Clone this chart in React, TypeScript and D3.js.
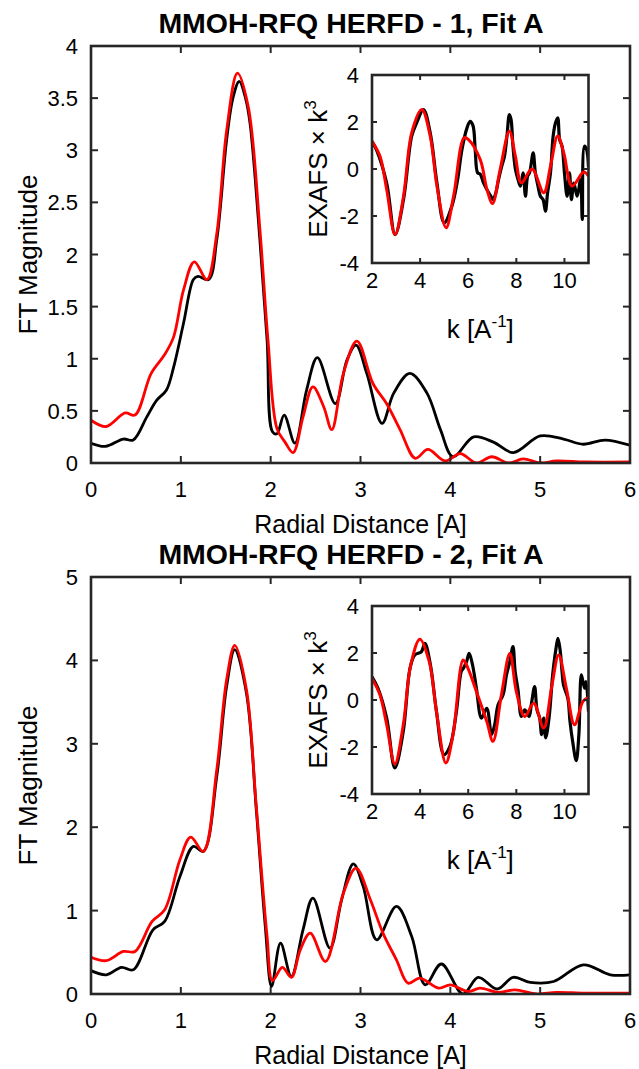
import React from "react";
import * as d3 from "d3";

// ---------- Data ----------
// Panel 1 main (FT magnitude vs R)
const p1DataR = [0, 0.16, 0.36, 0.47, 0.62, 0.73, 0.84, 0.92, 1.03, 1.14, 1.19, 1.31, 1.40, 1.51, 1.58, 1.65, 1.72, 1.77, 1.88, 1.96, 2.02, 2.07, 2.15, 2.27, 2.40, 2.52, 2.72, 2.85, 2.95, 3.07, 3.24, 3.37, 3.55, 3.74, 3.89, 4.03, 4.26, 4.48, 4.70, 5.00, 5.26, 5.48, 5.72, 6.0];
const p1DataF = [0.19, 0.16, 0.23, 0.22, 0.44, 0.60, 0.70, 0.92, 1.34, 1.76, 1.79, 1.76, 2.14, 3.10, 3.50, 3.66, 3.50, 3.26, 2.14, 1.18, 0.30, 0.28, 0.46, 0.19, 0.70, 1.01, 0.57, 0.99, 1.13, 0.86, 0.38, 0.67, 0.86, 0.67, 0.32, 0.06, 0.25, 0.20, 0.10, 0.26, 0.23, 0.18, 0.22, 0.17];
const p1FitR = [0, 0.17, 0.38, 0.49, 0.67, 0.82, 0.92, 1.03, 1.15, 1.29, 1.40, 1.51, 1.63, 1.75, 1.88, 1.97, 2.07, 2.16, 2.25, 2.36, 2.47, 2.59, 2.68, 2.81, 2.96, 3.14, 3.29, 3.44, 3.61, 3.75, 3.94, 4.11, 4.29, 4.46, 4.65, 4.81, 5.0, 5.18, 5.5, 6.0];
const p1FitF = [0.41, 0.35, 0.48, 0.46, 0.86, 1.04, 1.21, 1.66, 1.93, 1.76, 2.20, 3.19, 3.74, 3.42, 2.24, 1.18, 0.33, 0.20, 0.10, 0.44, 0.73, 0.54, 0.32, 0.86, 1.17, 0.76, 0.57, 0.32, 0.045, 0.13, 0.02, 0.09, 0.0, 0.06, 0.0, 0.04, 0.0, 0.02, 0.01, 0.01];

// Panel 2 main
const p2DataR = [0, 0.17, 0.34, 0.47, 0.69, 0.82, 0.99, 1.14, 1.25, 1.40, 1.51, 1.60, 1.73, 1.84, 1.94, 2.01, 2.11, 2.23, 2.36, 2.47, 2.66, 2.79, 2.92, 3.03, 3.18, 3.40, 3.57, 3.72, 3.90, 4.14, 4.31, 4.52, 4.70, 4.89, 5.15, 5.48, 5.78, 6.0];
const p2DataF = [0.28, 0.23, 0.32, 0.29, 0.77, 0.87, 1.41, 1.77, 1.71, 2.61, 3.69, 4.13, 3.61, 2.21, 0.81, 0.09, 0.61, 0.21, 0.77, 1.15, 0.55, 1.13, 1.56, 1.29, 0.65, 1.05, 0.69, 0.11, 0.36, 0.0, 0.20, 0.06, 0.20, 0.14, 0.15, 0.35, 0.23, 0.23];
const p2FitR = [0, 0.17, 0.36, 0.49, 0.68, 0.82, 0.99, 1.11, 1.25, 1.40, 1.51, 1.60, 1.73, 1.84, 1.96, 2.02, 2.13, 2.23, 2.33, 2.44, 2.61, 2.81, 2.95, 3.11, 3.25, 3.40, 3.53, 3.66, 3.87, 4.00, 4.20, 4.33, 4.53, 4.72, 4.96, 5.18, 5.5, 6.0];
const p2FitF = [0.44, 0.40, 0.51, 0.51, 0.87, 1.01, 1.61, 1.88, 1.71, 2.69, 3.77, 4.18, 3.65, 2.25, 0.69, 0.16, 0.32, 0.20, 0.53, 0.73, 0.39, 1.21, 1.51, 1.13, 0.73, 0.41, 0.13, 0.19, 0.07, 0.11, 0.03, 0.07, 0.02, 0.05, 0.00, 0.02, 0.01, 0.01];

// Inset 1 (EXAFS x k^3 vs k)
const i1DataK = [2.0, 2.2, 2.61, 2.96, 3.31, 3.65, 3.86, 4.14, 4.42, 4.70, 5.0, 5.32, 5.56, 5.74, 5.95, 6.08, 6.2, 6.29, 6.39, 6.5, 6.64, 6.85, 6.94, 7.03, 7.15, 7.26, 7.4, 7.5, 7.61, 7.71, 7.78, 7.86, 7.96, 8.07, 8.17, 8.28, 8.38, 8.47, 8.55, 8.70, 8.79, 8.9, 9.0, 9.11, 9.21, 9.30, 9.42, 9.53, 9.63, 9.72, 9.8, 9.9, 10.0, 10.11, 10.21, 10.29, 10.39, 10.53, 10.67, 10.74, 10.83, 10.92, 11.0];
const i1DataE = [1.18, 0.78, -0.6, -2.79, -1.3, 1.4, 1.97, 2.53, 1.54, -0.6, -2.29, -1.58, -0.45, 0.83, 1.75, 2.03, 1.84, 0.83, -0.16, -0.22, -0.6, -1.01, -1.16, -1.3, -1.01, -0.45, 0.14, 0.50, 1.40, 2.32, 2.11, 0.97, 0, -0.45, -0.73, -0.16, -1.16, -0.3, -0.16, 0.69, -0.16, -0.73, -1.16, -1.3, -1.79, -1.01, -0.16, 1.40, 1.97, 2.18, 1.25, 0.97, -0.16, -1.16, -0.16, -1.3, -0.6, -1.16, -0.45, -2.15, 0.97, 0.83, 0.07];
const i1FitK = [2.0, 2.33, 2.61, 2.96, 3.31, 3.65, 4.07, 4.42, 4.70, 5.08, 5.39, 5.83, 6.01, 6.5, 6.78, 7.01, 7.33, 7.71, 7.96, 8.21, 8.65, 9.14, 9.42, 9.72, 9.97, 10.32, 10.80, 11.0];
const i1FitE = [1.18, 0.55, -0.87, -2.79, -1.16, 1.54, 2.53, 1.40, -0.73, -2.50, -1.16, 1.33, 1.25, 0.40, -0.87, -1.47, 0, 1.61, 0.55, -0.59, 0.0, -1.01, 0.12, 1.40, 0.69, -0.73, -0.13, -0.30];

// Inset 2
const i2DataK = [2.0, 2.25, 2.61, 2.95, 3.3, 3.58, 3.78, 4.05, 4.2, 4.43, 4.68, 4.99, 5.24, 5.51, 5.71, 5.80, 5.93, 6.04, 6.18, 6.34, 6.55, 6.77, 6.97, 7.10, 7.24, 7.45, 7.59, 7.73, 7.86, 7.95, 8.07, 8.21, 8.35, 8.53, 8.63, 8.76, 8.86, 8.97, 9.05, 9.14, 9.22, 9.36, 9.51, 9.64, 9.73, 9.82, 9.9, 9.96, 10.14, 10.23, 10.34, 10.49, 10.6, 10.7, 10.77, 10.84, 10.9, 11.0];
const i2DataE = [0.99, 0.5, -0.77, -2.89, -1.33, 1.35, 1.92, 2.05, 2.41, 1.49, -0.49, -2.32, -1.97, -0.49, 1.21, 1.35, 1.63, 1.98, 1.49, 0.5, -0.77, -0.35, -1.47, -1.05, -0.21, 0.22, 1.07, 1.63, 2.27, 1.21, 0.43, -0.7, -0.42, -0.7, -0.14, 0.57, -0.42, -0.77, -1.47, -0.77, -1.61, -0.77, 1.07, 2.13, 2.62, 2.13, 1.21, 0.64, 0.08, -0.91, -1.76, -2.58, -1.47, 1.07, 0.78, 0.5, 0.78, -0.5];
const i2FitK = [2.0, 2.33, 2.61, 2.95, 3.30, 3.61, 3.99, 4.38, 4.68, 5.07, 5.37, 5.79, 5.99, 6.34, 6.77, 7.03, 7.38, 7.73, 8.0, 8.35, 8.72, 9.14, 9.46, 9.76, 10.08, 10.42, 10.77, 11.0];
const i2FitE = [0.92, 0.22, -1.05, -2.72, -1.05, 1.49, 2.59, 1.63, -0.49, -2.68, -1.47, 1.70, 1.35, 0.36, -0.91, -1.76, 0.22, 1.98, 0.36, -0.70, -0.14, -1.19, 0.5, 1.92, 0.5, -1.05, -0.06, 0.11];

// Ticks and labels
const mainXTicks = [0, 1, 2, 3, 4, 5, 6];
const p1YTicks = [0, 0.5, 1, 1.5, 2, 2.5, 3, 3.5, 4];
const p2YTicks = [0, 1, 2, 3, 4, 5];
const insetXTicks = [2, 4, 6, 8, 10];
const insetYTicks = [-4, -2, 0, 2, 4];
const titles = ["MMOH-RFQ HERFD - 1, Fit A", "MMOH-RFQ HERFD - 2, Fit A"];
const xLabel = "Radial Distance [A]";
const yLabel = "FT Magnitude";

const FONT = "'Liberation Sans', Arial, Helvetica, sans-serif";
const AX = "#262626";
const TICK_FS = 22;
const LABEL_FS = 25;

type Box = { l: number; r: number; t: number; b: number };

function zip(xs: number[], ys: number[]): [number, number][] {
  return xs.map((x, i) => [x, ys[i]]);
}

function Frame({ box, xs, ys, xTicks, yTicks, tickLen }: any) {
  return (
    <g>
      <rect x={box.l} y={box.t} width={box.r - box.l} height={box.b - box.t} fill="none" stroke={AX} strokeWidth={2.6} />
      {xTicks.map((v: number) => (
        <g key={"x" + v}>
          <line x1={xs(v)} x2={xs(v)} y1={box.b} y2={box.b - tickLen} stroke={AX} strokeWidth={2} />
          <line x1={xs(v)} x2={xs(v)} y1={box.t} y2={box.t + tickLen} stroke={AX} strokeWidth={2} />
        </g>
      ))}
      {yTicks.map((v: number) => (
        <g key={"y" + v}>
          <line x1={box.l} x2={box.l + tickLen} y1={ys(v)} y2={ys(v)} stroke={AX} strokeWidth={2} />
          <line x1={box.r} x2={box.r - tickLen} y1={ys(v)} y2={ys(v)} stroke={AX} strokeWidth={2} />
        </g>
      ))}
    </g>
  );
}

function Panel({ dy, yMax, yTicks, title, dR, dF, fR, fF, iDK, iDE, iFK, iFE, idx }: any) {
  const box: Box = { l: 91, r: 630, t: 46 + dy, b: 463 + dy };
  const ibox: Box = { l: 372, r: 588.5, t: 75 + dy, b: 263 + dy };
  const xs = d3.scaleLinear().domain([0, 6]).range([box.l, box.r]);
  const ys = d3.scaleLinear().domain([0, yMax]).range([box.b, box.t]);
  const ixs = d3.scaleLinear().domain([2, 11]).range([ibox.l, ibox.r]);
  const iys = d3.scaleLinear().domain([-4, 4]).range([ibox.b, ibox.t]);
  const line = d3.line<[number, number]>().x((d) => xs(d[0])).y((d) => ys(d[1])).curve(d3.curveCatmullRom.alpha(0.5));
  const iline = d3.line<[number, number]>().x((d) => ixs(d[0])).y((d) => iys(d[1])).curve(d3.curveCatmullRom.alpha(0.5));
  const cid = "clip" + idx;
  const icid = "iclip" + idx;
  const midX = (box.l + box.r) / 2;
  const imidX = (ibox.l + ibox.r) / 2;
  const imidY = (ibox.t + ibox.b) / 2;
  return (
    <g>
      <defs>
        <clipPath id={cid}>
          <rect x={box.l} y={box.t} width={box.r - box.l} height={box.b - box.t} />
        </clipPath>
        <clipPath id={icid}>
          <rect x={ibox.l} y={ibox.t} width={ibox.r - ibox.l} height={ibox.b - ibox.t} />
        </clipPath>
      </defs>
      <text x={351} y={33 + dy} textAnchor="middle" fontFamily={FONT} fontWeight="bold" fontSize={28.5} fill="#000">{title}</text>
      <g clipPath={`url(#${cid})`}>
        <path d={line(zip(dR, dF)) || ""} fill="none" stroke="#000" strokeWidth={2.8} />
        <path d={line(zip(fR, fF)) || ""} fill="none" stroke="#ff0000" strokeWidth={2.8} />
      </g>
      <Frame box={box} xs={xs} ys={ys} xTicks={mainXTicks} yTicks={yTicks} tickLen={7} />
      {mainXTicks.map((v) => (
        <text key={"xl" + v} x={xs(v)} y={box.b + 34} textAnchor="middle" fontFamily={FONT} fontSize={TICK_FS} fill="#000">{v}</text>
      ))}
      {yTicks.map((v: number) => (
        <text key={"yl" + v} x={box.l - 13} y={ys(v) + 8} textAnchor="end" fontFamily={FONT} fontSize={TICK_FS} fill="#000">{String(v)}</text>
      ))}
      <text x={midX} y={box.b + 70} textAnchor="middle" fontFamily={FONT} fontSize={LABEL_FS} fill="#000">{xLabel}</text>
      <text transform={`translate(37,${(box.t + box.b) / 2}) rotate(-90)`} textAnchor="middle" fontFamily={FONT} fontSize={26} fill="#000">{yLabel}</text>

      {/* inset */}
      <rect x={ibox.l} y={ibox.t} width={ibox.r - ibox.l} height={ibox.b - ibox.t} fill="#fff" />
      <g clipPath={`url(#${icid})`}>
        <path d={iline(zip(iDK, iDE)) || ""} fill="none" stroke="#000" strokeWidth={3.2} strokeLinejoin="round" />
        <path d={iline(zip(iFK, iFE)) || ""} fill="none" stroke="#ff0000" strokeWidth={3} />
      </g>
      <Frame box={ibox} xs={ixs} ys={iys} xTicks={insetXTicks} yTicks={insetYTicks} tickLen={5} />
      {insetXTicks.map((v) => (
        <text key={"ixl" + v} x={ixs(v)} y={ibox.b + 25} textAnchor="middle" fontFamily={FONT} fontSize={TICK_FS} fill="#000">{v}</text>
      ))}
      {insetYTicks.map((v) => (
        <text key={"iyl" + v} x={ibox.l - 13} y={iys(v) + 8} textAnchor="end" fontFamily={FONT} fontSize={TICK_FS} fill="#000">{String(v)}</text>
      ))}
      <text x={imidX} y={ibox.b + 75} textAnchor="middle" fontFamily={FONT} fontSize={26} fill="#000">
        k [A<tspan fontSize={17} dy={-11}>-1</tspan><tspan dy={11}>]</tspan>
      </text>
      <text transform={`translate(${ibox.l - 45},${imidY}) rotate(-90)`} textAnchor="middle" fontFamily={FONT} fontSize={26} fill="#000">
        EXAFS {"\u00D7"} k<tspan fontSize={17} dy={-11}>3</tspan>
      </text>
    </g>
  );
}

export default function App() {
  return (
    <svg width={639} height={1069} style={{ position: "absolute", left: 0, top: 0, background: "#fff" }}>
      <rect width={639} height={1069} fill="#fff" />
      <Panel idx={1} dy={0} yMax={4} yTicks={p1YTicks} title={titles[0]} dR={p1DataR} dF={p1DataF} fR={p1FitR} fF={p1FitF} iDK={i1DataK} iDE={i1DataE} iFK={i1FitK} iFE={i1FitE} />
      <Panel idx={2} dy={531} yMax={5} yTicks={p2YTicks} title={titles[1]} dR={p2DataR} dF={p2DataF} fR={p2FitR} fF={p2FitF} iDK={i2DataK} iDE={i2DataE} iFK={i2FitK} iFE={i2FitE} />
    </svg>
  );
}
